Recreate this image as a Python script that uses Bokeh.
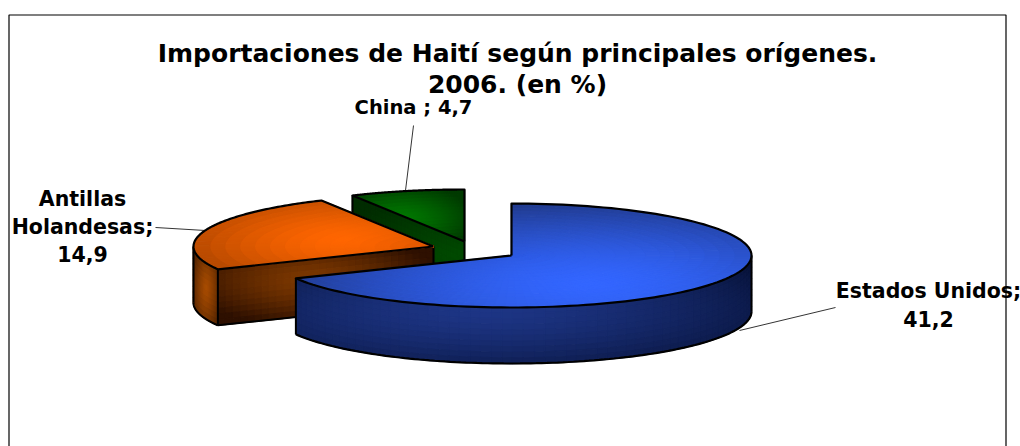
import numpy as np
from bokeh.plotting import figure
from bokeh.models import Range1d
from bokeh.core.properties import value
from bokeh.embed import file_html
from bokeh.resources import INLINE

categories = ["Estados Unidos", "Antillas Holandesas", "China"]
shares = [41.2, 14.9, 4.7]
title_lines = ["Importaciones de Haití según principales orígenes.", "2006. (en %)"]


def comma(v):
    return f"{v:.1f}".replace(".", ",")


label_lines = [
    ["Estados Unidos;", comma(shares[0])],
    ["Antillas", "Holandesas;", comma(shares[1])],
    [f"China ; {comma(shares[2])}"],
]

W, H = 1020, 446
p = figure(width=W, height=H, output_backend="svg", toolbar_location=None,
           x_range=Range1d(0, W), y_range=Range1d(H, 0), min_border=0,
           outline_line_color=None)
p.axis.visible = False
p.grid.visible = False

RX, RY, DEPTH = 240.0, 52.0, 56.0
apex = [(511.0, 255.0), (433.0, 246.0), (464.0, 241.0)]
frac = np.array(shares) / sum(shares) * 2 * np.pi
ends = np.cumsum(frac)
starts = ends - frac


def rim(c, t, z=0.0):
    return c[0] + RX * np.sin(t), c[1] - RY * np.cos(t) + z


def hexmix(a, b, s):
    a = np.array([int(a[i:i + 2], 16) for i in (1, 3, 5)], float)
    b = np.array([int(b[i:i + 2], 16) for i in (1, 3, 5)], float)
    m = a + (b - a) * s
    return "#%02x%02x%02x" % tuple(int(round(v)) for v in m)


def shade(x, y, g):
    cx, cy, a, b, bright, dark, pw = g
    d = min(1.0, np.hypot((x - cx) / a, (y - cy) / b))
    return hexmix(bright, dark, d ** pw)


def draw_cells(cells, g):
    xs, ys, cs = [], [], []
    for qx, qy in cells:
        xs.append(list(qx))
        ys.append(list(qy))
        cs.append(shade(np.mean(qx), np.mean(qy), g))
    p.patches(xs, ys, fill_color=cs, line_color=cs, line_width=1.3)


def top_face(c, t0, t1, g, nr=16, nt=48):
    ts = np.linspace(t0, t1, nt + 1)
    rs = np.linspace(0, 0.995, nr + 1)
    cells = []
    for i in range(nr):
        for j in range(nt):
            tt = [ts[j], ts[j + 1], ts[j + 1], ts[j]]
            rr = [rs[i], rs[i], rs[i + 1], rs[i + 1]]
            cells.append(([c[0] + r * RX * np.sin(t) for r, t in zip(rr, tt)],
                           [c[1] - r * RY * np.cos(t) for r, t in zip(rr, tt)]))
    draw_cells(cells, g)


def wall(c, t0, t1, g, nz=10, nt=60):
    ts = np.linspace(t0, t1, nt + 1)
    zs = np.linspace(0, DEPTH, nz + 1)
    cells = []
    for i in range(nz):
        for j in range(nt):
            a = rim(c, ts[j], zs[i])
            b = rim(c, ts[j + 1], zs[i])
            d = rim(c, ts[j + 1], zs[i + 1])
            e = rim(c, ts[j], zs[i + 1])
            cells.append(([a[0], b[0], d[0], e[0]], [a[1], b[1], d[1], e[1]]))
    draw_cells(cells, g)


def cut(c, t, g, nz=10, nu=30):
    us = np.linspace(0, 1, nu + 1)
    zs = np.linspace(0, DEPTH, nz + 1)
    ex, ey = rim(c, t)
    cells = []
    for i in range(nz):
        for j in range(nu):
            qx = [c[0] + (ex - c[0]) * u for u in (us[j], us[j + 1], us[j + 1], us[j])]
            qy = [c[1] + (ey - c[1]) * u + z for u, z in
                  zip((us[j], us[j + 1], us[j + 1], us[j]), (zs[i], zs[i], zs[i + 1], zs[i + 1]))]
            cells.append((qx, qy))
    draw_cells(cells, g)


def outline_top(c, t0, t1):
    ts = np.linspace(t0, t1, 120)
    xs, ys = rim(c, ts)
    p.line([c[0], *xs, c[0]], [c[1], *ys, c[1]], line_color="black", line_width=2.2, line_join="round")


def outline_wall(c, t0, t1):
    ts = np.linspace(t0, t1, 120)
    xs, ys = rim(c, ts, DEPTH)
    p.line(xs, ys, line_color="black", line_width=2.2)
    for t in (t0, t1):
        x, y = rim(c, t)
        p.line([x, x], [y, y + DEPTH], line_color="black", line_width=2)


# green slice
ga, t0, t1 = apex[2], starts[2], ends[2]
cut(ga, t0, (455, 255, 130, 60, "#004a00", "#002c00", 1.0))
ex, ey = rim(ga, t0)
p.line([ex, ex], [ey, ey + DEPTH], line_color="black", line_width=2)
p.line([ga[0], ga[0]], [ga[1], ga[1] + DEPTH], line_color="black", line_width=2)
top_face(ga, t0, t1, (400, 218, 75, 35, "#007a00", "#003a00", 1.3))
outline_top(ga, t0, t1)

# orange slice
oa, t0, t1 = apex[1], starts[1], ends[1]
wall(oa, t0, 1.5 * np.pi, (205, 288, 14, 45, "#a84c00", "#5a2800", 1.2))
cut(oa, t0, (310, 280, 130, 45, "#7d3800", "#2e1000", 1.4))
outline_wall(oa, t0, 1.5 * np.pi)
x0, y0 = rim(oa, t0, DEPTH)
p.line([x0, oa[0], oa[0]], [y0, oa[1] + DEPTH, oa[1]], line_color="black", line_width=2)
top_face(oa, t0, t1, (340, 238, 150, 45, "#ff6600", "#b84a00", 1.5))
outline_top(oa, t0, t1)

# blue slice
ba, t0, t1 = apex[0], starts[0], ends[0]
wall(ba, 0.5 * np.pi, t1, (480, 310, 330, 75, "#1d3585", "#071238", 1.5))
outline_wall(ba, 0.5 * np.pi, t1)
top_face(ba, t0, t1, (590, 285, 320, 85, "#3366ff", "#20398a", 1.6), nr=16, nt=90)
outline_top(ba, t0, t1)

# leader lines
p.line([739, 835], [330, 307], line_color="black", line_width=0.8)
p.line([155, 205], [227, 230], line_color="black", line_width=0.8)
p.line([405, 413], [190, 125], line_color="black", line_width=0.8)

# frame
p.line([8.5, 8.5, 1005.5, 1005.5], [H, 14.5, 14.5, H], line_color="black", line_width=1.2)

FONT = value("DejaVu Sans")


def put(x, ys, lines, size):
    p.text([x] * len(lines), ys, text=lines, text_font=FONT, text_font_style="bold",
           text_font_size=size, text_align="center", text_baseline="middle", text_color="black")


put(517, [53, 84], title_lines, "25px")
put(928, [290, 318], label_lines[0], "20.5px")
put(82, [198, 226, 253], label_lines[1], "20.5px")
put(413, [107], label_lines[2], "19.5px")

open("out.html", "w").write(file_html(p, INLINE))
